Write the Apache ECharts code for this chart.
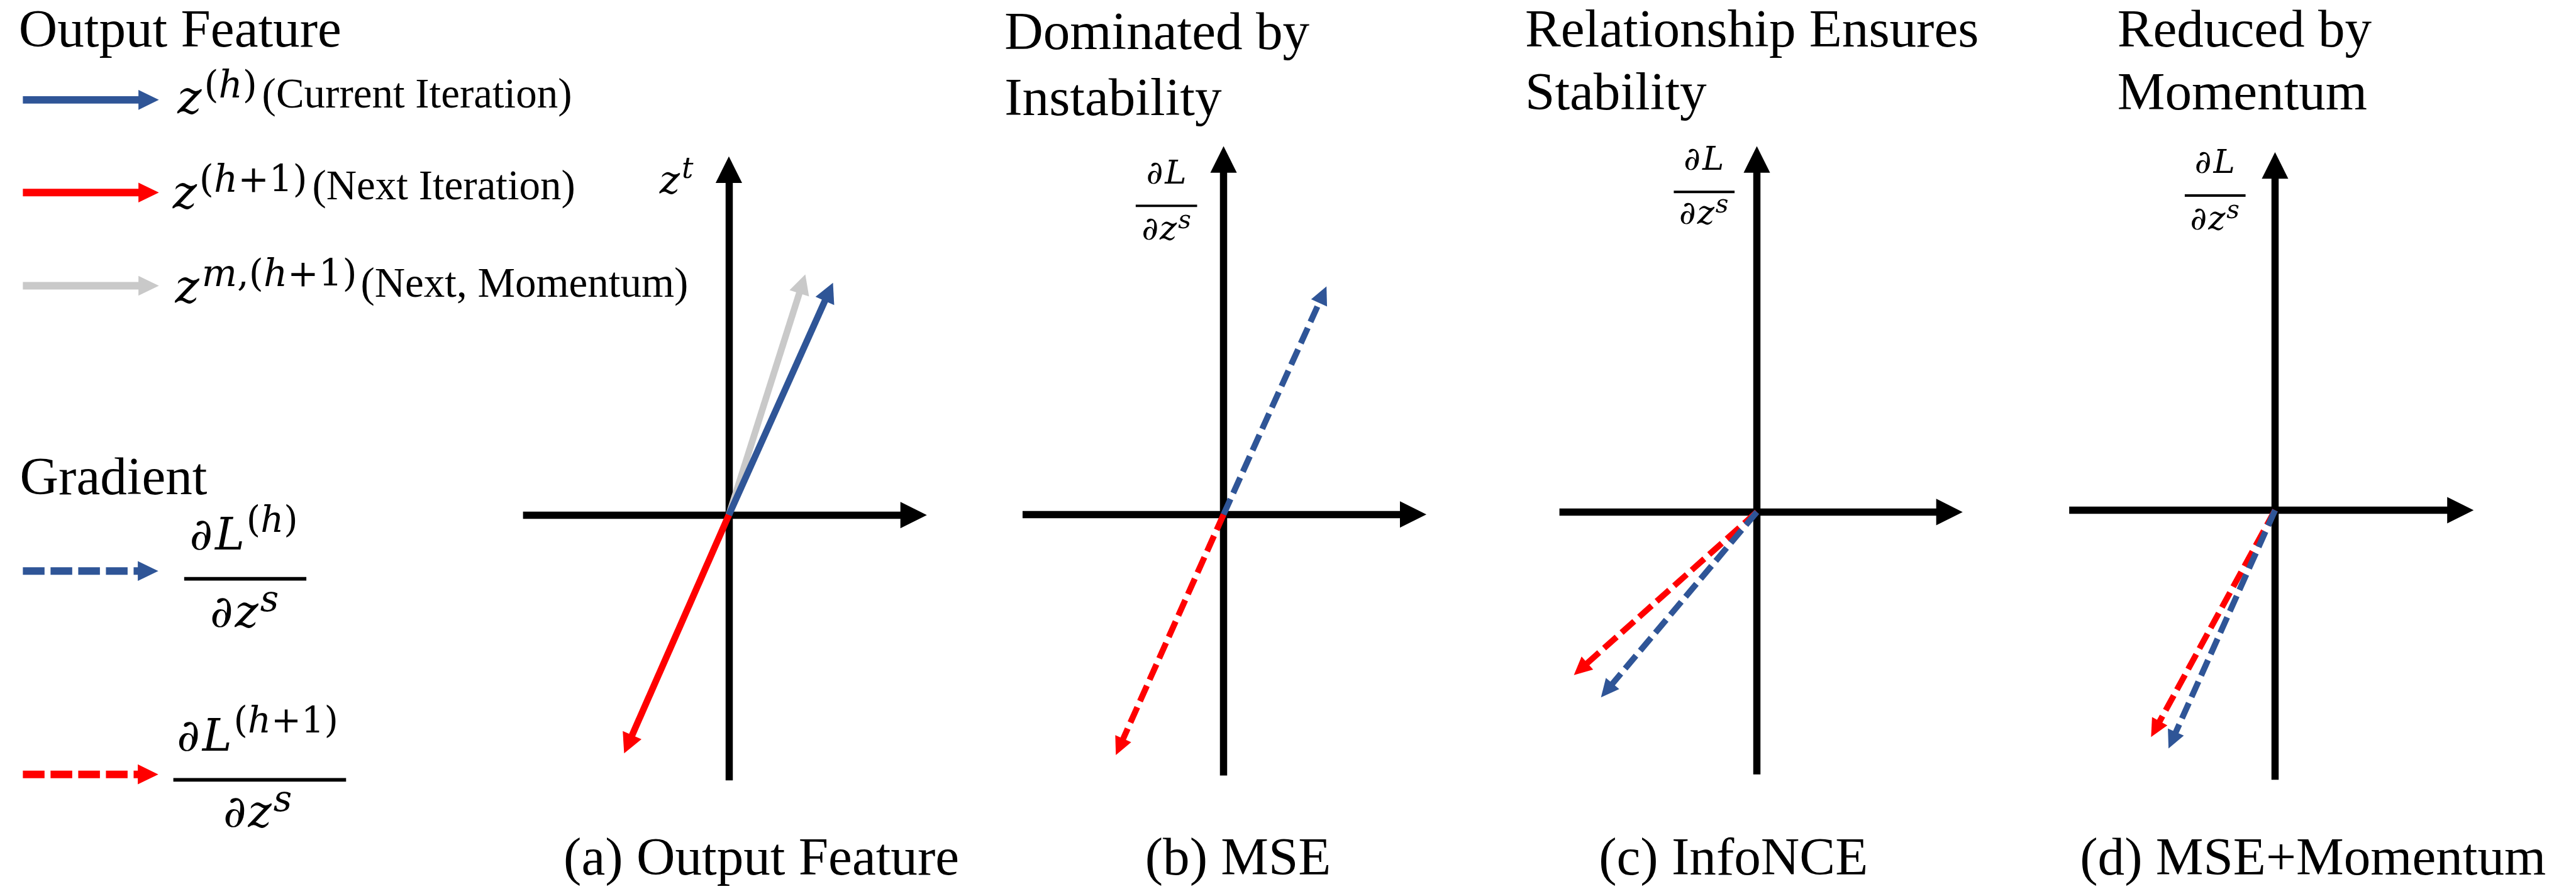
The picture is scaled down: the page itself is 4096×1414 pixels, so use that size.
<!DOCTYPE html>
<html>
<head>
<meta charset="utf-8">
<script src="https://cdn.jsdelivr.net/npm/echarts@6/dist/echarts.min.js"></script>
<style>
html,body{margin:0;padding:0;background:#fff;}
#chart{width:4096px;height:1414px;}
</style>
</head>
<body>
<div id="chart"></div>
<script>
// ================= DATA (diagram units, y up) =================
const panelCaptions = ['(a) Output Feature', '(b) MSE', '(c) InfoNCE', '(d) MSE+Momentum'];
const panelTitles = [null, ['Dominated by', 'Instability'], ['Relationship Ensures', 'Stability'], ['Reduced by', 'Momentum']];
// axis extents (arrow tips) per panel
const xExtent = [[-3.42, 3.29], [-3.34, 3.37], [-3.28, 3.42], [-3.42, 3.30]];
const yExtent = [[-4.41, 5.96], [-4.34, 6.12], [-4.36, 6.08], [-4.48, 5.95]];
// panel (a): output feature vectors
const featCurrent = [1.73, 3.86];
const featNext = [-1.74, -3.96];
const featMomentum = [1.27, 4.00];
// panels (b),(c),(d): gradient vectors
const gradCurrent = [[1.71, 3.79], [-2.59, -3.08], [-1.77, -3.96]];
const gradNext = [[-1.79, -4.00], [-3.04, -2.71], [-2.06, -3.77]];

// ================= LAYOUT / STYLE =================
const S = 0.957;             // reference -> window scale
const U = 100 * S;           // px per diagram unit
const origins = [[1211, 856], [2033, 855], [2919, 851], [3780, 848]]; // reference px
const AX_HALF = 0.22;        // half arrow-head length in units
const BLUE = '#2F5597', RED = '#FF0000', GRAY = '#C9C9C9';
const SERIF = 'Liberation Serif';
const MATH = 'DejaVu Serif';
const KS = 0.3375, KM = 0.346;

const mctx = document.createElement('canvas').getContext('2d');
function fontOf(fsF, fam, italic) { return (italic ? 'italic ' : '') + (fsF * S).toFixed(2) + 'px "' + fam + '"'; }
function widthF(str, fsF, fam, italic) { mctx.font = fontOf(fsF, fam, italic); return mctx.measureText(str).width / S; }
function el(xF, baseF, str, fsF, fam, italic, align) {
  const k = fam === MATH ? KM : KS;
  return {type: 'text', x: xF * S, y: (baseF - k * fsF) * S, silent: true, z: 10,
    style: {text: str, fontSize: fsF * S, fontFamily: fam, fontStyle: italic ? 'italic' : 'normal',
      fill: '#000', align: align || 'left', verticalAlign: 'middle'}};
}
function run(xF, baseF, pieces, align) {
  let total = 0;
  const ws = pieces.map(p => { const w = widthF(p[0], p[1], MATH, p[3]); total += w + (p[4] || 0); return w; });
  let x = align === 'center' ? xF - total / 2 : xF;
  const out = [];
  pieces.forEach((p, i) => { x += (p[4] || 0); out.push(el(x, baseF - p[2], p[0], p[1], MATH, p[3])); x += ws[i]; });
  return {els: out, end: x};
}
function bar(x1, x2, y, t) {
  return {type: 'rect', silent: true, shape: {x: x1 * S, y: (y - t / 2) * S, width: (x2 - x1) * S, height: t * S}, style: {fill: '#000'}};
}
function legendArrow(x1, x2, y, color, dashed) {
  const hl = 34, hw = 33, sw = 12.5;
  return {type: 'group', silent: true, children: [
    {type: 'line', shape: {x1: x1 * S, y1: y * S, x2: (x2 - hl + 2) * S, y2: y * S},
      style: {stroke: color, lineWidth: sw * S, lineDash: dashed ? [36 * S, 10 * S] : null, lineCap: 'butt'}},
    {type: 'polygon', shape: {points: [[x2 * S, y * S], [(x2 - hl) * S, (y - hw / 2) * S], [(x2 - hl) * S, (y + hw / 2) * S]]},
      style: {fill: color}}
  ]};
}

// ================= GRIDS & AXES =================
const grids = [], xAxes = [], yAxes = [];
for (let i = 0; i < 4; i++) {
  const [ox, oy] = origins[i];
  const xmin = xExtent[i][0], xmax = xExtent[i][1] - AX_HALF;
  const ymin = yExtent[i][0], ymax = yExtent[i][1] - AX_HALF;
  grids.push({left: (ox + xmin * 100) * S, top: (oy - ymax * 100) * S,
    width: (xmax - xmin) * U, height: (ymax - ymin) * U, containLabel: false});
  const axisCommon = {
    type: 'value', gridIndex: i, scale: false,
    axisLine: {show: true, onZero: true, symbol: ['none', 'triangle'], symbolSize: [44 * S, 44 * S],
      lineStyle: {color: '#000', width: 12 * S, cap: 'butt'}},
    axisTick: {show: false}, axisLabel: {show: false}, splitLine: {show: false}
  };
  xAxes.push(Object.assign({}, axisCommon, {min: xmin, max: xmax}));
  yAxes.push(Object.assign({}, axisCommon, {min: ymin, max: ymax}));
}

// ================= VECTOR SERIES =================
function arrowRenderer(color, dashed) {
  const sw = (dashed ? 10 : 11) * S, hl = (dashed ? 30 : 33) * S, hw = (dashed ? 29 : 34) * S;
  return function (params, api) {
    const o = api.coord([0, 0]);
    const t = api.coord([api.value(0), api.value(1)]);
    const dx = t[0] - o[0], dy = t[1] - o[1];
    const len = Math.sqrt(dx * dx + dy * dy);
    const ux = dx / len, uy = dy / len, px = -uy, py = ux;
    const b = [t[0] - ux * hl, t[1] - uy * hl];
    return {type: 'group', children: [
      {type: 'line', shape: {x1: o[0], y1: o[1], x2: b[0] + ux * 2, y2: b[1] + uy * 2},
        style: {stroke: color, lineWidth: sw, lineDash: dashed ? [28 * S, 11 * S] : null, lineCap: 'butt'}},
      {type: 'polygon', shape: {points: [[t[0], t[1]], [b[0] + px * hw / 2, b[1] + py * hw / 2], [b[0] - px * hw / 2, b[1] - py * hw / 2]]},
        style: {fill: color}}
    ]};
  };
}
const series = [
  {name: 'z^{m,(h+1)}', type: 'custom', xAxisIndex: 0, yAxisIndex: 0, data: [featMomentum], renderItem: arrowRenderer(GRAY, false), clip: false, z: 3},
  {name: 'z^{(h)}', type: 'custom', xAxisIndex: 0, yAxisIndex: 0, data: [featCurrent], renderItem: arrowRenderer(BLUE, false), clip: false, z: 3},
  {name: 'z^{(h+1)}', type: 'custom', xAxisIndex: 0, yAxisIndex: 0, data: [featNext], renderItem: arrowRenderer(RED, false), clip: false, z: 3}
];
for (let i = 0; i < 3; i++) {
  series.push({name: 'dL(h+1)', type: 'custom', xAxisIndex: i + 1, yAxisIndex: i + 1, data: [gradNext[i]], renderItem: arrowRenderer(RED, true), clip: false, z: 3});
  series.push({name: 'dL(h)', type: 'custom', xAxisIndex: i + 1, yAxisIndex: i + 1, data: [gradCurrent[i]], renderItem: arrowRenderer(BLUE, true), clip: false, z: 3});
}

// ================= TEXT & LEGEND GRAPHICS =================
const g = [];
// legend: output feature
g.push(el(31, 84, 'Output Feature', 89, SERIF));
g.push(legendArrow(38, 264, 166, BLUE, false));
g.push(legendArrow(38, 264, 320, RED, false));
g.push(legendArrow(38, 264, 475, GRAY, false));
let r = run(295, 195, [['z', 76, 0, true], ['(', 62, 28, false, 4], ['h', 62, 28, true], [')', 62, 28, false]]);
g.push(...r.els, el(r.end + 8, 184, '(Current Iteration)', 70, SERIF));
r = run(287, 352, [['z', 76, 0, true], ['(', 62, 28, false, 4], ['h', 62, 28, true], ['+1)', 62, 28, false]]);
g.push(...r.els, el(r.end + 8, 336, '(Next Iteration)', 70, SERIF));
r = run(291, 509, [['z', 76, 0, true], ['m', 62, 28, true, 4], [',', 62, 28, false], ['(', 62, 28, false], ['h', 62, 28, true], ['+1)', 62, 28, false]]);
g.push(...r.els, el(r.end + 6, 498, '(Next, Momentum)', 70, SERIF));

// legend: gradient
g.push(el(33, 828, 'Gradient', 89, SERIF));
g.push(legendArrow(38, 263, 949, BLUE, true));
g.push(legendArrow(38, 263, 1287, RED, true));
r = run(405, 920, [['∂', 74, 0, true], ['L', 74, 0, true, 4], ['(', 60, 31, false, 3], ['h', 60, 31, true], [')', 60, 31, false]], 'center');
g.push(...r.els, bar(306, 509, 962, 6));
r = run(406, 1048, [['∂', 74, 0, true], ['z', 74, 0, true, 3], ['s', 60, 27, true, 3]], 'center');
g.push(...r.els);
r = run(428, 1254, [['∂', 74, 0, true], ['L', 74, 0, true, 4], ['(', 60, 31, false, 3], ['h', 60, 31, true], ['+1)', 60, 31, false]], 'center');
g.push(...r.els, bar(288, 575, 1296, 6));
r = run(428, 1380, [['∂', 74, 0, true], ['z', 74, 0, true, 3], ['s', 60, 27, true, 3]], 'center');
g.push(...r.els);

// panel (a) axis label z^t
r = run(1096, 326, [['z', 64, 0, true], ['t', 48, 26, true, 3]]);
g.push(...r.els);

// panel (b)-(d) axis labels dL/dz^s
const fracPos = [[1938, 310, 342, 403, 1887, 1989], [2831, 287, 319, 377, 2781, 2882], [3680, 292, 325, 386, 3630, 3731]];
fracPos.forEach(f => {
  let a = run(f[0], f[1], [['∂', 54, 0, true], ['L', 54, 0, true, 3]], 'center');
  g.push(...a.els, bar(f[4], f[5], f[2], 4));
  a = run(f[0], f[3], [['∂', 54, 0, true], ['z', 54, 0, true, 2], ['s', 42, 20, true, 2]], 'center');
  g.push(...a.els);
});

// panel titles
const titlePos = [null, [1669, 88, 198], [2534, 84, 189], [3518, 84, 189]];
for (let i = 1; i < 4; i++) {
  g.push(el(titlePos[i][0], titlePos[i][1], panelTitles[i][0], 89, SERIF));
  g.push(el(titlePos[i][0], titlePos[i][2], panelTitles[i][1], 89, SERIF));
}
// captions
const capX = [1265, 2057, 2880, 3843];
panelCaptions.forEach((c, i) => g.push(el(capX[i], 1460, c, 89, SERIF, false, 'center')));

// ================= CHART =================
const chart = echarts.init(document.getElementById('chart'), null, {renderer: 'canvas'});
chart.setOption({
  animation: false,
  backgroundColor: '#ffffff',
  grid: grids,
  xAxis: xAxes,
  yAxis: yAxes,
  series: series,
  graphic: g
});
</script>
</body>
</html>
